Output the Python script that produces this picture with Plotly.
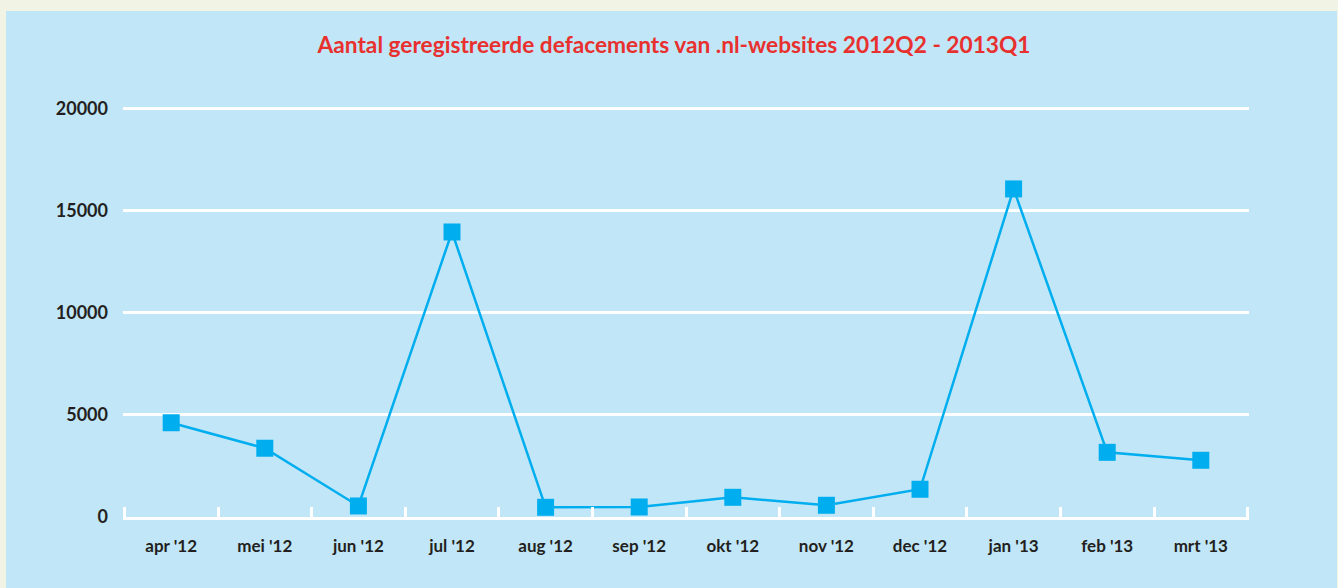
import plotly.graph_objects as go

months = ["apr '12", "mei '12", "jun '12", "jul '12", "aug '12", "sep '12",
          "okt '12", "nov '12", "dec '12", "jan '13", "feb '13", "mrt '13"]
defacements = [4620, 3370, 540, 13970, 475, 490, 965, 575, 1360, 16080, 3170, 2780]
y_ticks = [0, 5000, 10000, 15000, 20000]
title_text = "Aantal geregistreerde defacements van .nl-websites 2012Q2 - 2013Q1"

W, H = 1338, 588
L, R, T, B = 123, 89, 101, 71
pw, ph = W - L - R, H - T - B

BLUE_BG = "#C1E6F7"
BEIGE = "#F1F3E5"
LINE = "#00AEEF"
TXT = "#231F20"

fig = go.Figure()
fig.add_trace(go.Scatter(
    x=months, y=defacements, mode="lines+markers",
    line=dict(color=LINE, width=2.5),
    marker=dict(symbol="square", size=17, color=LINE),
    showlegend=False, cliponaxis=False,
))

# light-blue panel over beige page
fig.add_shape(type="rect", xref="paper", yref="paper", layer="below",
              x0=(6 - L) / pw, x1=(1337 - L) / pw,
              y0=-0.3, y1=(H - B - 11) / ph,
              fillcolor=BLUE_BG, line=dict(width=0))

fig.update_layout(
    width=W, height=H,
    margin=dict(l=L, r=R, t=T, b=B),
    paper_bgcolor=BEIGE, plot_bgcolor=BLUE_BG,
    font=dict(family="Lato", color=TXT),
    title=dict(text=title_text, x=674 / W, xanchor="center",
               y=1 - 45 / H, yanchor="middle", xref="container", yref="container",
               font=dict(family="Lato", size=22.7, color="#E8312F", weight="bold")),
    xaxis=dict(
        type="category", range=[-0.515, 11.515],
        showgrid=False, zeroline=False,
        showline=True, linecolor="white", linewidth=2.5,
        ticks="inside", tickson="boundaries", ticklen=10, tickwidth=2.5, tickcolor="white",
        tickfont=dict(family="Lato", size=17, color=TXT, weight="bold"),
        ticklabelstandoff=12,
    ),
    yaxis=dict(
        range=[0, 20390], tickvals=y_ticks, ticktext=[str(v) for v in y_ticks],
        showgrid=True, gridcolor="white", gridwidth=2.5,
        zeroline=False, showline=False, ticks="",
        tickfont=dict(family="Lato", size=18, color=TXT, weight="bold"),
        ticklabelstandoff=14,
    ),
)

fig.write_html(
    "out.html",
    config={"displayModeBar": False},
    post_script="document.body.style.margin='0';document.body.style.padding='0';"
                "document.body.style.background='" + BEIGE + "';",
)
